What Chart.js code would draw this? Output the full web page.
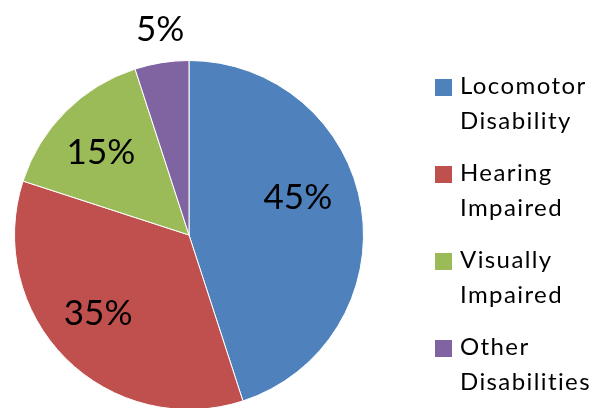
<!DOCTYPE html>
<html>
<head>
<meta charset="utf-8">
<script src="https://cdn.jsdelivr.net/npm/chart.js@4"></script>
<style>
  html, body { margin: 0; padding: 0; background: #fff; }
  #wrap { width: 591px; height: 408px; overflow: hidden; position: relative; }
</style>
</head>
<body>
<div id="wrap"><canvas id="pieChart" width="591" height="420"></canvas></div>
<script>
// donnees du graphique
const categories = [["Locomotor", "Disability"], ["Hearing", "Impaired"], ["Visually", "Impaired"], ["Other", "Disabilities"]];
const values = [45, 35, 15, 5];
const colors = ["#4F81BD", "#C0504D", "#9BBB59", "#8064A2"];

// etiquettes en % sur les parts
const sliceLabels = {
    id: "sliceLabels",
    afterDatasetsDraw(chart, args, opts) {
        const ctx = chart.ctx;
        const meta = chart.getDatasetMeta(0);
        const total = values.reduce((a, b) => a + b, 0);
        ctx.save();
        ctx.fillStyle = "#000";
        ctx.font = opts.font;
        ctx.textAlign = "center";
        ctx.textBaseline = "middle";
        meta.data.forEach((arc, i) => {
            const p = arc.getProps(["x", "y", "startAngle", "endAngle", "outerRadius"], true);
            const mid = (p.startAngle + p.endAngle) / 2 + (opts.angleShift[i] || 0) * Math.PI / 180;
            const r = p.outerRadius * opts.radius[i];
            const txt = Math.round(values[i] / total * 100) + "%";
            ctx.fillText(txt, p.x + Math.cos(mid) * r, p.y + Math.sin(mid) * r);
        });
        ctx.restore();
    }
};

// legende a droite, deux lignes par entree
const sideLegend = {
    id: "sideLegend",
    afterDraw(chart, args, opts) {
        const ctx = chart.ctx;
        ctx.save();
        ctx.font = opts.font;
        ctx.letterSpacing = opts.spacing;
        ctx.textBaseline = "alphabetic";
        ctx.textAlign = "left";
        categories.forEach((lines, i) => {
            const base = opts.top + i * opts.itemGap;
            ctx.fillStyle = colors[i];
            ctx.fillRect(opts.x, base - 15, 17, 17);
            ctx.fillStyle = "#000";
            lines.forEach((line, j) => {
                ctx.fillText(line, opts.x + 25, base + j * opts.lineHeight);
            });
        });
        ctx.restore();
    }
};

const pieChart = document.querySelector('#pieChart');
const graph = new Chart(pieChart, {
    type: "pie",
    data: {
        labels: categories.map(c => c.join(" ")),
        datasets: [
            {
                data: values,
                backgroundColor: colors,
                borderColor: "#ffffff",
                borderWidth: 1,
            },
        ],
    },
    options: {
        responsive: false,
        animation: false,
        layout: {
            padding: { left: 14, top: 60, right: 227, bottom: 10 },
        },
        plugins: {
            legend: { display: false },
            tooltip: { enabled: false },
            sliceLabels: {
                font: "35px Lato",
                radius: [0.66, 0.69, 0.69, 1.19],
                angleShift: [-10, 4, -2, 1],
            },
            sideLegend: {
                font: "24px Lato",
                spacing: "1.4px",
                x: 435,
                top: 94,
                itemGap: 87,
                lineHeight: 34.5,
            },
        },
    },
    plugins: [sliceLabels, sideLegend],
});
</script>
</body>
</html>
